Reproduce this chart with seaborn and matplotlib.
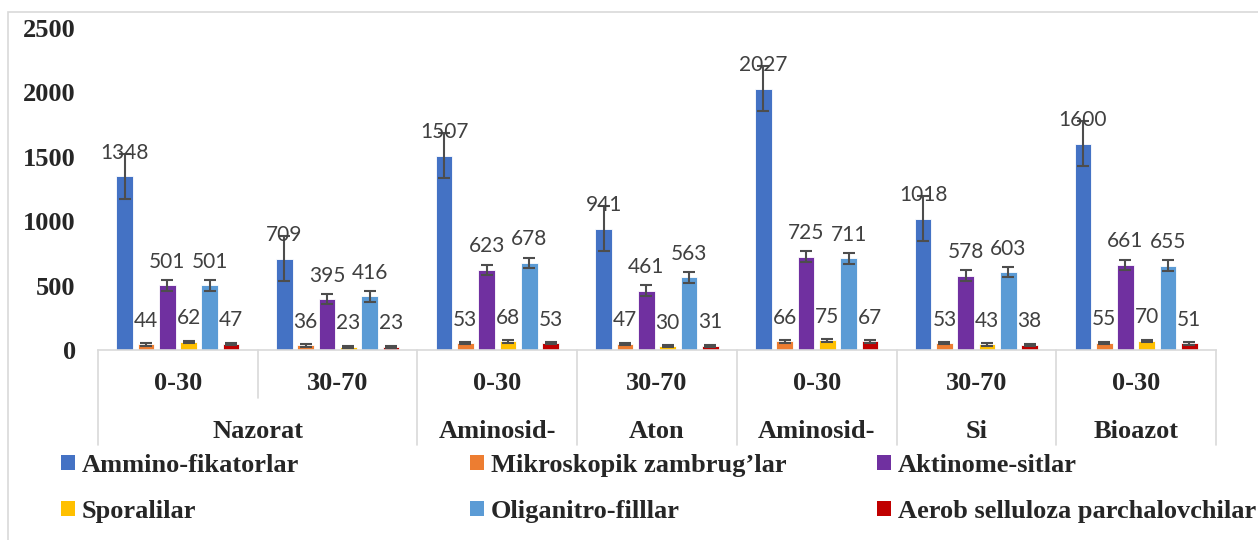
import pandas as pd
import seaborn as sns
import matplotlib.pyplot as plt
from matplotlib.patches import Patch, Rectangle
from matplotlib.transforms import blended_transform_factory

# chart data
groups = ["G1", "G2", "G3", "G4", "G5", "G6", "G7"]
depths = ["0-30", "30-70", "0-30", "30-70", "0-30", "30-70", "0-30"]
treatments = ["Nazorat", "Aminosid-", "Aton", "Aminosid-", "Si", "Bioazot"]
treatment_span = [(0, 1), (2, 2), (3, 3), (4, 4), (5, 5), (6, 6)]

series = ["Ammino-fikatorlar", "Mikroskopik zambrug\u2019lar", "Aktinome-sitlar",
          "Sporalilar", "Oliganitro-filllar", "Aerob selluloza parchalovchilar"]
ammino = [1348, 709, 1507, 941, 2027, 1018, 1600]
mikro = [44, 36, 53, 47, 66, 53, 55]
aktino = [501, 395, 623, 461, 725, 578, 661]
spora = [62, 23, 68, 30, 75, 43, 70]
oligo = [501, 416, 678, 563, 711, 603, 655]
aerob = [47, 23, 53, 31, 67, 38, 51]
errors = [175, 10, 40, 10, 40, 10]

colors = ["#4472C4", "#ED7D31", "#7030A0", "#FFC000", "#5B9BD5", "#C00000"]

values = [ammino, mikro, aktino, spora, oligo, aerob]
rows = []
for name, vals in zip(series, values):
    for g, v in zip(groups, vals):
        rows.append({"group": g, "series": name, "value": v})
df = pd.DataFrame(rows)

sns.set_theme(style="white")
plt.rcParams["font.family"] = ["Liberation Serif", "DejaVu Serif"]

W, H = 1258, 540
fig = plt.figure(figsize=(W / 100, H / 100), dpi=100)
ax = fig.add_axes([98 / W, 1 - 350 / H, 1118 / W, 322 / H])

sns.barplot(data=df, x="group", y="value", hue="series", order=groups,
            hue_order=series, palette=colors, saturation=1, width=0.8, gap=0.22,
            errorbar=None, legend=False, edgecolor="white", linewidth=0.6, ax=ax)

# error bars and value labels
bar_conts = list(ax.containers)
for i, cont in enumerate(bar_conts):
    for j, p in enumerate(cont.patches):
        xc = p.get_x() + p.get_width() / 2
        h = p.get_height()
        ax.errorbar(xc, h, yerr=errors[i], fmt="none", ecolor="#4d4d4d",
                    elinewidth=1.5, capsize=4.5, capthick=1.5, zorder=3)
        ax.annotate(f"{values[i][j]}", (xc, h), xytext=(0, 17), textcoords="offset points",
                    ha="center", va="center", fontsize=15, color="#404040",
                    family=["Lato", "DejaVu Sans"])

ax.set_xlim(-0.5, 6.5)
ax.set_ylim(0, 2500)
ax.set_yticks(range(0, 2501, 500))
ax.set_xlabel("")
ax.set_ylabel("")
ax.tick_params(axis="x", length=0, labelbottom=False)
ax.tick_params(axis="y", length=0, pad=16, labelsize=19)
for lab in ax.get_yticklabels():
    lab.set_fontweight("bold")
for s in ["left", "top", "right"]:
    ax.spines[s].set_visible(False)
ax.spines["bottom"].set_color("#d9d9d9")
ax.spines["bottom"].set_linewidth(1.2)

# two-level category axis
tr = blended_transform_factory(ax.transData, ax.transAxes)
y_full = -95 / 322
y_short = -48 / 322
for k in range(len(groups) + 1):
    xb = k - 0.5
    yb = y_short if k == 1 else y_full
    ax.plot([xb, xb], [0, yb], transform=tr, color="#d9d9d9", lw=1.2, clip_on=False)
for k, d in enumerate(depths):
    ax.text(k, -34 / 322, d, transform=tr, ha="center", va="center",
            fontsize=19, fontweight="bold")
for t, (a, b) in zip(treatments, treatment_span):
    ax.text((a + b) / 2, -81 / 322, t, transform=tr, ha="center", va="center",
            fontsize=19, fontweight="bold")

# legend in three columns
col_x = [61, 470, 877]
for c in range(3):
    idx = [c, c + 3]
    handles = [Patch(facecolor=colors[i], edgecolor="none") for i in idx]
    fig.legend(handles, [series[i] for i in idx], loc="upper left",
               bbox_to_anchor=(col_x[c] / W, 1 - 454 / H), frameon=False,
               borderpad=0, borderaxespad=0, handlelength=0.53, handleheight=0.53,
               handletextpad=0.25, labelspacing=0.86,
               prop={"family": "Liberation Serif", "weight": "bold", "size": 19})

# chart border
fig.add_artist(Rectangle((8 / W, -0.1), 1.2, 1.1 - 12 / H, transform=fig.transFigure,
                         fill=False, edgecolor="#d9d9d9", lw=1.2))

fig.savefig("out.png", dpi=100)
